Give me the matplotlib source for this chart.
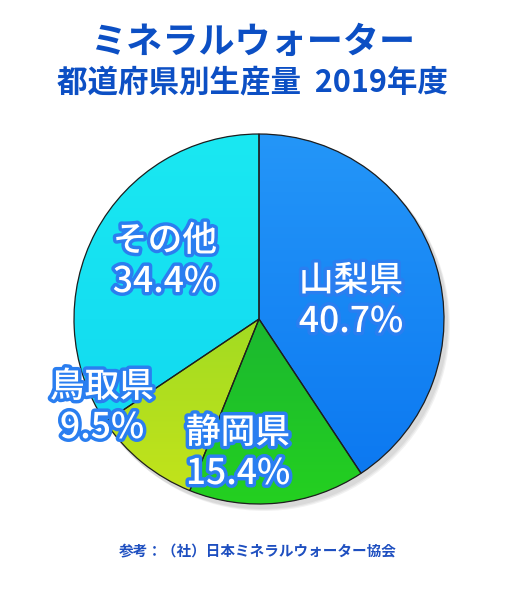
import numpy as np
import matplotlib
matplotlib.use("Agg")
import matplotlib.pyplot as plt
import matplotlib.patheffects as pe
from matplotlib.colors import LinearSegmentedColormap
from matplotlib.patches import Circle, Wedge

plt.rcParams['font.family'] = ['Noto Sans CJK JP', 'DejaVu Sans']

# data
prefs = ['山梨県', '静岡県', '鳥取県', 'その他']
shares = [40.7, 15.4, 9.5, 34.4]
top_colors = ['#2496f8', '#12a040', '#80d22a', '#1ae8f2']
bottom_colors = ['#0a76f0', '#24d020', '#c4e41a', '#10d6f0']
# label centres in pixels (x, y from top)
label_pos = [(351, 301), (238, 453), (102, 407), (165, 261)]

W, H = 512, 600
fig = plt.figure(figsize=(W / 100, H / 100), dpi=100)
ax = fig.add_axes([0, 0, 1, 1])

cx, cy, r = 259, H - 319, 185

# soft shadow
for k in range(3):
    ax.add_patch(Circle((cx + 3 + k, cy - 4 - k), r + 1, color='k', alpha=0.05, lw=0))

wedges, _ = ax.pie(shares, startangle=90, counterclock=False, center=(cx, cy),
                   radius=r, colors=top_colors, wedgeprops=dict(linewidth=0))

# gradient fill for each slice, outline on top
grad = np.linspace(0, 1, 256).reshape(-1, 1)
for w, c1, c2 in zip(wedges, top_colors, bottom_colors):
    cmap = LinearSegmentedColormap.from_list('g', [c1, c2])
    im = ax.imshow(grad, cmap=cmap, aspect='auto', origin='upper',
                   extent=(cx - r, cx + r, cy - r, cy + r), zorder=1.5)
    im.set_clip_path(w)
    ax.add_patch(Wedge(w.center, w.r, w.theta1, w.theta2, fill=False,
                       edgecolor='#1e1e1e', lw=0.9, zorder=2))

stroke = [pe.Stroke(linewidth=5, foreground='#2a7ef0'), pe.Normal()]
for name, v, (x, y) in zip(prefs, shares, label_pos):
    ax.text(x, H - y + 20, name, ha='center', va='center', fontsize=25,
            color='white', fontweight='medium', path_effects=stroke, zorder=5)
    ax.text(x, H - y - 21, f'{v}%', ha='center', va='center', fontsize=25.5,
            color='white', fontweight='medium', path_effects=stroke, zorder=5)

ax.text(253, H - 42, 'ミネラルウォーター', ha='center', va='center',
        fontsize=26, fontweight='bold', color='#0c4fc4')
ax.text(252, H - 82, '都道府県別生産量  2019年度', ha='center', va='center',
        fontsize=22, fontweight='bold', color='#0c4fc4')
ax.text(258, H - 551, '参考：（社）日本ミネラルウォーター協会', ha='center', va='center',
        fontsize=10.5, fontweight='bold', color='#1e4fc0')

ax.set_xlim(0, W)
ax.set_ylim(0, H)
ax.set_aspect('equal')
ax.axis('off')

fig.savefig('out.png', dpi=100)
